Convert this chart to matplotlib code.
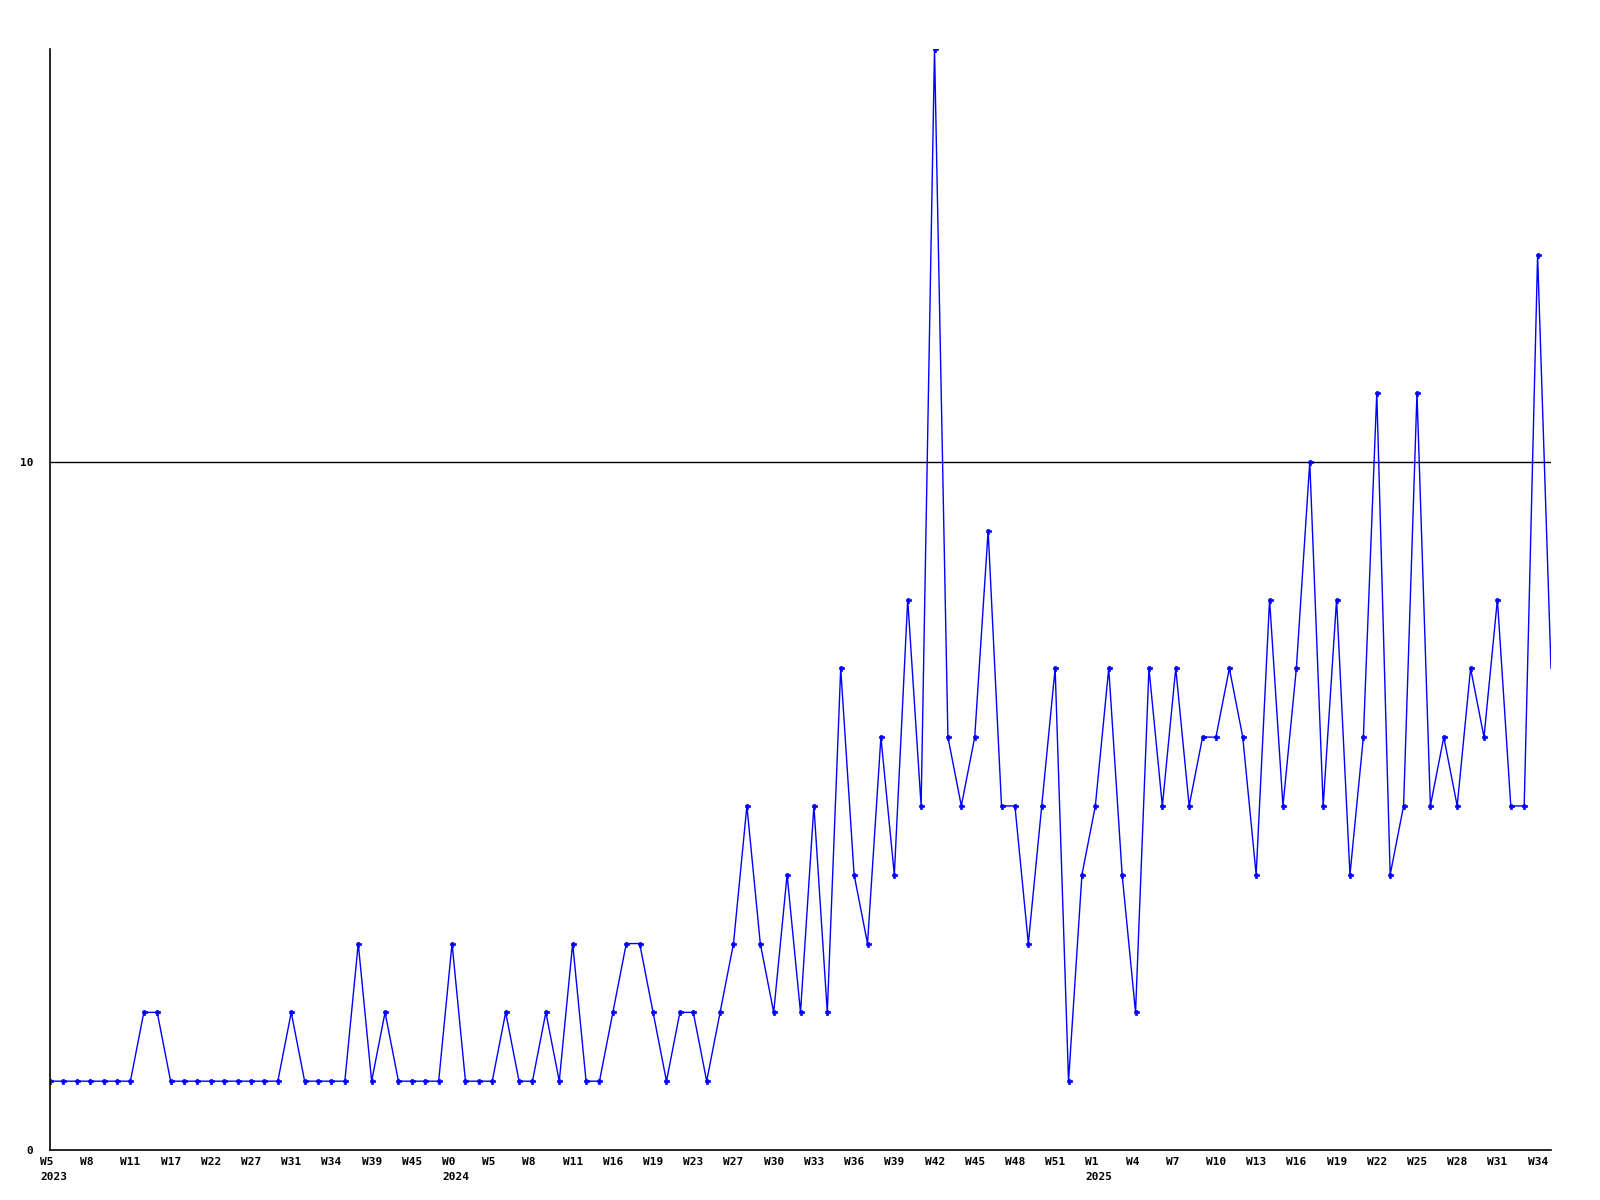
import matplotlib
matplotlib.use("Agg")
import matplotlib.pyplot as plt
import matplotlib.transforms as mtransforms

# weekly counts, one point per week
values = [
    1, 1, 1, 1, 1, 1, 1, 2, 2, 1,
    1, 1, 1, 1, 1, 1, 1, 1, 2, 1,
    1, 1, 1, 3, 1, 2, 1, 1, 1, 1,
    3, 1, 1, 1, 2, 1, 1, 2, 1, 3,
    1, 1, 2, 3, 3, 2, 1, 2, 2, 1,
    2, 3, 5, 3, 2, 4, 2, 5, 2, 7,
    4, 3, 6, 4, 8, 5, 16, 6, 5, 6,
    9, 5, 5, 3, 5, 7, 1, 4, 5, 7,
    4, 2, 7, 5, 7, 5, 6, 6, 7, 6,
    4, 8, 5, 7, 10, 5, 8, 4, 6, 11,
    4, 5, 11, 5, 6, 5, 7, 6, 8, 5,
    5, 13, 7,
]

# label every third week
tick_labels = [
    "W5\n2023", "W8", "W11", "W17", "W22", "W27", "W31", "W34", "W39", "W45",
    "W0\n2024", "W5", "W8", "W11", "W16", "W19", "W23", "W27", "W30", "W33",
    "W36", "W39", "W42", "W45", "W48", "W51", "W1\n2025", "W4", "W7", "W10",
    "W13", "W16", "W19", "W22", "W25", "W28", "W31", "W34",
]
y_ticks = [0, 10]

x = list(range(len(values)))
ticks = list(range(0, len(values), 3))[:len(tick_labels)]

fig = plt.figure(figsize=(16, 12), dpi=100)
ax = fig.add_axes([50 / 1600, 1 - 1150 / 1200, 1501 / 1600, 1101 / 1200])

ax.axhline(10, color="black", lw=1, zorder=1)
ax.plot(x, values, color="#0000ff", lw=1.0, marker="P", markersize=3.6,
        markeredgewidth=0.5, markevery=list(range(len(values) - 1)), zorder=2)

ax.set_xlim(0, len(values) - 1)
ax.set_ylim(0, 16)

for s in ["top", "right"]:
    ax.spines[s].set_visible(False)
for s in ["left", "bottom"]:
    ax.spines[s].set_linewidth(1.2)

font = dict(family="DejaVu Sans Mono", weight="bold", size=8)
ax.set_yticks(y_ticks)
ax.set_yticklabels([str(v) for v in y_ticks], **font)
ax.tick_params(axis="y", length=0, pad=12)

ax.set_xticks(ticks)
ax.set_xticklabels(tick_labels, linespacing=1.6, **font)
ax.tick_params(axis="x", length=0, pad=5)
offset = mtransforms.ScaledTranslation(-10 / 100, 0, fig.dpi_scale_trans)
for lbl in ax.get_xticklabels():
    lbl.set_horizontalalignment("left")
    lbl.set_multialignment("left")
    lbl.set_transform(lbl.get_transform() + offset)

fig.savefig("out.png", dpi=100)
